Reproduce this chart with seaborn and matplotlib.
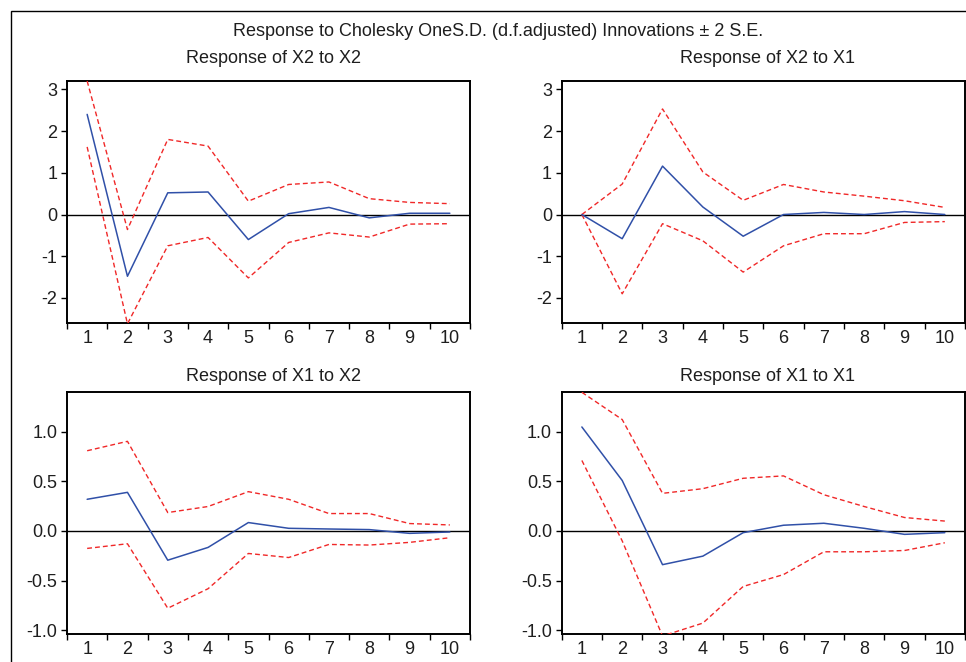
import numpy as np
import pandas as pd
import matplotlib
matplotlib.use("Agg")
import matplotlib.pyplot as plt
import seaborn as sns
from matplotlib.patches import Rectangle
from matplotlib.ticker import FixedLocator

periods = [1, 2, 3, 4, 5, 6, 7, 8, 9, 10]

# Response of X2 to X2
x2x2_resp = [2.40, -1.48, 0.52, 0.54, -0.60, 0.02, 0.17, -0.08, 0.03, 0.03]
x2x2_upper = [3.20, -0.36, 1.80, 1.64, 0.32, 0.72, 0.78, 0.38, 0.29, 0.26]
x2x2_lower = [1.62, -2.62, -0.75, -0.55, -1.52, -0.67, -0.44, -0.54, -0.23, -0.22]

# Response of X2 to X1
x2x1_resp = [0.00, -0.58, 1.16, 0.18, -0.52, 0.00, 0.05, 0.00, 0.07, 0.00]
x2x1_upper = [0.00, 0.73, 2.53, 1.02, 0.34, 0.72, 0.54, 0.44, 0.33, 0.17]
x2x1_lower = [0.00, -1.90, -0.22, -0.63, -1.38, -0.75, -0.46, -0.46, -0.19, -0.17]

# Response of X1 to X2
x1x2_resp = [0.32, 0.39, -0.295, -0.166, 0.085, 0.027, 0.020, 0.014, -0.024, -0.010]
x1x2_upper = [0.81, 0.905, 0.186, 0.247, 0.397, 0.320, 0.176, 0.176, 0.075, 0.061]
x1x2_lower = [-0.176, -0.129, -0.78, -0.583, -0.227, -0.268, -0.136, -0.142, -0.115, -0.068]

# Response of X1 to X1
x1x1_resp = [1.05, 0.51, -0.34, -0.254, -0.017, 0.058, 0.078, 0.027, -0.034, -0.017]
x1x1_upper = [1.40, 1.125, 0.38, 0.427, 0.532, 0.556, 0.366, 0.247, 0.136, 0.100]
x1x1_lower = [0.712, -0.10, -1.06, -0.93, -0.56, -0.44, -0.21, -0.21, -0.197, -0.119]

main_title = "Response to Cholesky OneS.D. (d.f.adjusted) Innovations \u00b1 2 S.E."
panel_titles = ["Response of X2 to X2", "Response of X2 to X1",
                "Response of X1 to X2", "Response of X1 to X1"]

top_yticks = [-2, -1, 0, 1, 2, 3]
top_yticklabels = ["-2", "-1", "0", "1", "2", "3"]
bot_yticks = [-1.0, -0.5, 0.0, 0.5, 1.0]
bot_yticklabels = ["-1.0", "-0.5", "0.0", "0.5", "1.0"]

sns.set_style("white")
plt.rcParams["font.family"] = ["Liberation Sans", "DejaVu Sans"]

W, H = 966, 662
fig = plt.figure(figsize=(W / 100, H / 100), dpi=100)

def fx(px):
    return px / W

def fy(py):
    return 1 - py / H

boxes = [
    (67, 470, 81, 323),
    (561.7, 965, 81, 323),
    (67, 470, 392.3, 634),
    (561.7, 965, 392.3, 634),
]
title_pos = [(273.8, 63.3), (767.7, 63.3), (273.8, 380.7), (767.7, 380.7)]
series = [
    (x2x2_resp, x2x2_upper, x2x2_lower),
    (x2x1_resp, x2x1_upper, x2x1_lower),
    (x1x2_resp, x1x2_upper, x1x2_lower),
    (x1x1_resp, x1x1_upper, x1x1_lower),
]
ylims = [(-2.6, 3.2), (-2.6, 3.2), (-1.04, 1.40), (-1.04, 1.40)]

blue = "#3050a8"
red = "#f02828"
txt = "#1e1e1e"

for i, ((l, r, t, b), (resp, up, lo)) in enumerate(zip(boxes, series)):
    ax = fig.add_axes([fx(l), fy(b), fx(r) - fx(l), fy(t) - fy(b)])
    df = pd.DataFrame({"period": periods, "resp": resp, "upper": up, "lower": lo})
    ax.axhline(0, color="black", lw=1.0, zorder=1)
    sns.lineplot(data=df, x="period", y="upper", ax=ax, color=red, lw=1.0,
                 linestyle=(0, (3.5, 2.2)), zorder=3)
    sns.lineplot(data=df, x="period", y="lower", ax=ax, color=red, lw=1.0,
                 linestyle=(0, (3.5, 2.2)), zorder=3)
    sns.lineplot(data=df, x="period", y="resp", ax=ax, color=blue, lw=1.1, zorder=4)
    ax.set_xlim(0.5, 10.5)
    ax.set_ylim(*ylims[i])
    ax.set_xlabel("")
    ax.set_ylabel("")
    ax.set_xticks(periods)
    ax.set_xticklabels([str(p) for p in periods])
    ax.xaxis.set_minor_locator(FixedLocator([p + 0.5 for p in [0] + periods]))
    ax.tick_params(axis="x", which="major", length=0, pad=5, labelsize=13, labelcolor=txt)
    ax.tick_params(axis="x", which="minor", length=4.3, width=1.0, direction="out",
                   bottom=True, color="black")
    if i < 2:
        ax.set_yticks(top_yticks)
        ax.set_yticklabels(top_yticklabels)
    else:
        ax.set_yticks(bot_yticks)
        ax.set_yticklabels(bot_yticklabels)
    ax.tick_params(axis="y", which="major", length=4, width=1.0, direction="out",
                   left=True, pad=3, labelsize=13, labelcolor=txt, color="black")
    for s in ax.spines.values():
        s.set_visible(True)
        s.set_color("black")
        s.set_linewidth(1.4)
    tx, ty = title_pos[i]
    fig.text(fx(tx), fy(ty), panel_titles[i], ha="center", va="baseline",
             fontsize=13, color=txt)

fig.text(fx(498), fy(36), main_title, ha="center", va="baseline", fontsize=13, color=txt)

frame = Rectangle((fx(10.5), -0.2), 1.5, fy(11.3) + 0.2, transform=fig.transFigure,
                  fill=False, edgecolor="black", lw=1.0, clip_on=False)
fig.patches.append(frame)

fig.savefig("out.png", dpi=100)
